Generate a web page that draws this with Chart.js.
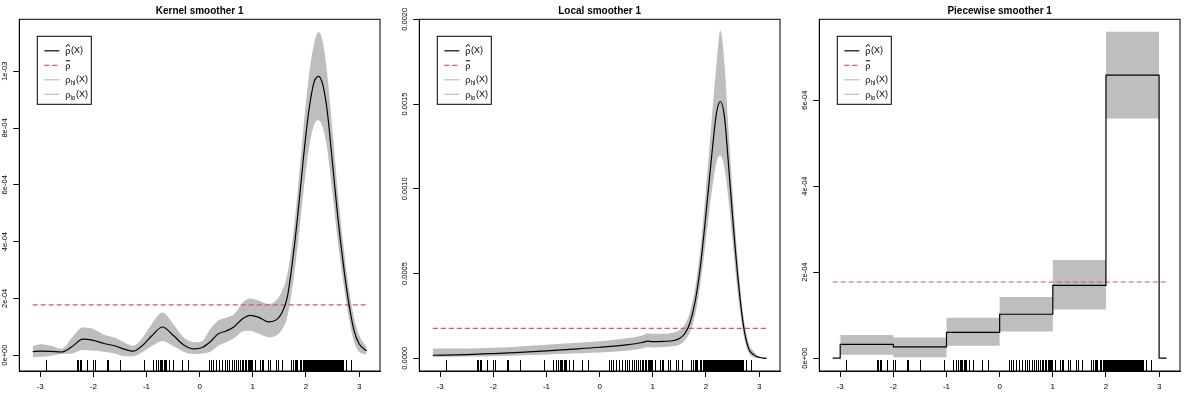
<!DOCTYPE html>
<html>
<head>
<meta charset="utf-8">
<script src="https://cdn.jsdelivr.net/npm/chart.js@4"></script>
<style>
  body { margin: 0; background: #fff; }
  .panel { position: absolute; top: 0; width: 400px; height: 400px; }
</style>
</head>
<body>
<div class="panel" style="left:0"><canvas id="c1" width="400" height="400"></canvas></div>
<div class="panel" style="left:400px"><canvas id="c2" width="400" height="400"></canvas></div>
<div class="panel" style="left:800px"><canvas id="c3" width="400" height="400"></canvas></div>
<script>
// all y values are in units of 1e-4
const xTicks = [-3, -2, -1, 0, 1, 2, 3];
const pBar = 1.77;

// kernel smoother
const kX = [-3.14, -3.0, -2.8, -2.6, -2.4, -2.2, -2.0, -1.8, -1.6, -1.4, -1.25, -1.1, -0.9, -0.7, -0.5, -0.3, -0.1, 0.05, 0.2, 0.35, 0.5, 0.65, 0.8, 0.95, 1.1, 1.3, 1.45, 1.55, 1.65, 1.75, 1.85, 1.95, 2.05, 2.15, 2.24, 2.32, 2.4, 2.5, 2.6, 2.7, 2.8, 2.9, 3.0, 3.14];
const kEst = [0.12, 0.14, 0.13, 0.11, 0.30, 0.56, 0.52, 0.41, 0.33, 0.20, 0.14, 0.30, 0.68, 0.99, 0.70, 0.36, 0.22, 0.27, 0.47, 0.75, 0.85, 1.00, 1.27, 1.40, 1.34, 1.17, 1.25, 1.50, 2.05, 3.35, 5.00, 6.90, 8.55, 9.60, 9.82, 9.50, 8.60, 6.75, 4.85, 3.25, 1.90, 0.90, 0.40, 0.15];
const kHi = [0.30, 0.38, 0.33, 0.22, 0.62, 0.97, 0.92, 0.72, 0.62, 0.43, 0.33, 0.55, 1.10, 1.50, 1.10, 0.62, 0.45, 0.50, 0.92, 1.22, 1.32, 1.45, 1.83, 1.99, 1.92, 1.80, 1.95, 2.25, 2.85, 4.10, 5.90, 7.95, 9.75, 10.95, 11.38, 11.00, 9.90, 7.90, 5.75, 3.95, 2.45, 1.35, 0.70, 0.30];
const kLo = [-0.08, -0.06, -0.02, 0.04, 0.06, 0.18, 0.15, 0.12, 0.06, -0.04, -0.04, 0.08, 0.32, 0.50, 0.32, 0.12, 0.04, 0.06, 0.12, 0.33, 0.45, 0.60, 0.83, 0.86, 0.76, 0.63, 0.70, 0.90, 1.35, 2.45, 3.95, 5.70, 7.20, 8.10, 8.27, 8.00, 7.25, 5.70, 4.00, 2.60, 1.40, 0.50, 0.12, 0.02];
const kYTicks = [0, 2, 4, 6, 8, 10];
const kYLabels = ["0e+00", "2e-04", "4e-04", "6e-04", "8e-04", "1e-03"];

// local smoother
const lX = [-3.14, -2.5, -2.0, -1.5, -1.0, -0.5, 0, 0.5, 0.8, 0.9, 1.0, 1.2, 1.4, 1.5, 1.6, 1.7, 1.8, 1.9, 2.0, 2.1, 2.2, 2.27, 2.35, 2.42, 2.5, 2.6, 2.7, 2.8, 2.9, 3.0, 3.14];
const lEst = [0.18, 0.22, 0.28, 0.35, 0.44, 0.54, 0.65, 0.79, 0.93, 1.01, 0.98, 1.00, 1.05, 1.17, 1.45, 2.10, 3.40, 5.55, 8.50, 11.70, 14.50, 15.15, 14.20, 11.60, 8.40, 4.80, 2.05, 0.60, 0.20, 0.06, 0.00];
const lHi = [0.58, 0.58, 0.62, 0.70, 0.80, 0.90, 1.00, 1.18, 1.35, 1.48, 1.45, 1.45, 1.52, 1.65, 1.98, 2.75, 4.20, 6.60, 10.00, 13.80, 17.40, 19.35, 17.30, 13.70, 9.90, 5.80, 2.60, 0.95, 0.40, 0.12, 0.02];
const lLo = [0.08, 0.10, 0.12, 0.16, 0.22, 0.28, 0.34, 0.45, 0.58, 0.66, 0.64, 0.66, 0.72, 0.80, 1.05, 1.55, 2.60, 4.50, 7.00, 9.60, 11.60, 11.96, 11.20, 9.50, 6.90, 3.80, 1.50, 0.35, 0.06, 0.00, -0.02];
const lYTicks = [0, 5, 10, 15, 20];
const lYLabels = ["0.0000", "0.0005", "0.0010", "0.0015", "0.0020"];

// piecewise smoother
const pX = [-3.14, -3, -2, -1, 0, 1, 2, 3, 3.14];
const pEst = [0, 0.32, 0.26, 0.60, 1.02, 1.69, 6.58, 0, 0];
const pBandX = [-3, -2, -1, 0, 1, 2, 3];
const pHi = [0.54, 0.48, 0.94, 1.42, 2.28, 7.59, 7.59];
const pLo = [0.08, 0.02, 0.29, 0.62, 1.13, 5.57, 5.57];
const pYTicks = [0, 2, 4, 6];
const pYLabels = ["0e+00", "2e-04", "4e-04", "6e-04"];

// covariate values (rug)
const rugX = [-2.89, -2.31, -2.28, -2.26, -2.23, -2.12, -2.00, -1.97, -1.75, -1.72, -1.50, -1.05,
  -0.87, -0.82, -0.79, -0.75, -0.73, -0.70, -0.68, -0.65, -0.63, -0.58, -0.51, -0.34, -0.22,
  0.18, 0.22, 0.26, 0.30, 0.37, 0.42, 0.47, 0.51, 0.56, 0.60, 0.65, 0.69, 0.73, 0.76, 0.79, 0.82,
  0.85, 0.88, 0.91, 0.92, 0.94, 0.96, 0.97, 0.99, 1.04, 1.13, 1.17, 1.20, 1.29, 1.33, 1.43, 1.47,
  1.55, 1.71, 1.75, 1.79, 1.81, 1.84, 1.88, 1.91, 1.94, 1.97,
  1.98, 1.99, 2.00, 2.01, 2.02, 2.03, 2.04, 2.05, 2.06, 2.07, 2.08, 2.09, 2.10, 2.11, 2.12, 2.13,
  2.14, 2.15, 2.16, 2.17, 2.18, 2.19, 2.20, 2.21, 2.22, 2.23, 2.24, 2.25, 2.26, 2.27, 2.28, 2.29,
  2.30, 2.31, 2.32, 2.33, 2.34, 2.35, 2.36, 2.37, 2.38, 2.39, 2.40, 2.41, 2.42, 2.43, 2.44, 2.45,
  2.46, 2.47, 2.48, 2.49, 2.50, 2.51, 2.52, 2.53, 2.54, 2.55, 2.56, 2.57, 2.58, 2.59, 2.60, 2.61,
  2.62, 2.63, 2.64, 2.65, 2.66, 2.67, 2.68, 2.69, 2.70, 2.75, 2.84];

const RED = "#DF536B";
const GREY = "#BEBEBE";
const FONT = "'Liberation Sans', Arial, sans-serif";

const pts = (xs, ys) => xs.map((x, i) => ({ x: x, y: ys[i] }));

// box, title, rotated y labels, rug and legend, drawn R style
const decor = {
  id: "decor",
  afterDraw(chart) {
    const o = chart.options.plugins.decor;
    const ctx = chart.ctx;
    const ca = chart.chartArea;
    const xs = chart.scales.x, ys = chart.scales.y;
    ctx.save();
    ctx.strokeStyle = "#000";
    ctx.lineWidth = 1;
    ctx.strokeRect(ca.left, ca.top, ca.right - ca.left, ca.bottom - ca.top);

    ctx.fillStyle = "#000";
    ctx.font = "bold 10px " + FONT;
    ctx.textAlign = "center";
    ctx.textBaseline = "middle";
    ctx.fillText(o.title, (ca.left + ca.right) / 2, 11);

    ctx.font = "7.5px " + FONT;
    o.yTicks.forEach((v, i) => {
      ctx.save();
      ctx.translate(5, ys.getPixelForValue(v));
      ctx.rotate(-Math.PI / 2);
      ctx.fillText(o.yLabels[i], 0, 0);
      ctx.restore();
    });

    // rug, snapped to whole pixels so the ticks stay crisp
    const rugTop = Math.round(ca.bottom - 0.03 * (ca.bottom - ca.top));
    ctx.beginPath();
    rugX.forEach(v => {
      const px = Math.round(xs.getPixelForValue(v)) + 0.5;
      ctx.moveTo(px, ca.bottom);
      ctx.lineTo(px, rugTop);
    });
    ctx.stroke();

    // legend
    const x0 = ca.left + 18, y0 = ca.top + 17;
    ctx.strokeRect(x0, y0, 54, 68);
    const rows = [
      { c: "#000", dash: [], deco: "hat" },
      { c: RED, dash: [5, 3], deco: "bar" },
      { c: GREY, dash: [], sub: "hi" },
      { c: GREY, dash: [], sub: "lo" }
    ];
    rows.forEach((r, i) => {
      const y = y0 + 14.5 + i * 14.5;
      ctx.save();
      ctx.strokeStyle = r.c;
      ctx.lineWidth = 1.2;
      ctx.setLineDash(r.dash);
      ctx.beginPath();
      ctx.moveTo(x0 + 7, y);
      ctx.lineTo(x0 + 22, y);
      ctx.stroke();
      ctx.restore();
      let tx = x0 + 28;
      ctx.textAlign = "left";
      ctx.textBaseline = "middle";
      ctx.font = "9px " + FONT;
      ctx.fillText("ρ", tx, y + 1);
      const w = ctx.measureText("ρ").width;
      if (r.deco === "hat") {
        ctx.beginPath();
        ctx.moveTo(tx + w / 2 - 2, y - 4);
        ctx.lineTo(tx + w / 2, y - 6.5);
        ctx.lineTo(tx + w / 2 + 2, y - 4);
        ctx.stroke();
      }
      if (r.deco === "bar") {
        ctx.beginPath();
        ctx.moveTo(tx + 0.5, y - 4.5);
        ctx.lineTo(tx + w - 0.5, y - 4.5);
        ctx.stroke();
      }
      tx += w;
      if (r.sub) {
        ctx.font = "6.5px " + FONT;
        ctx.fillText(r.sub, tx, y + 3.5);
        tx += ctx.measureText(r.sub).width;
        ctx.font = "9px " + FONT;
      }
      if (r.deco !== "bar") ctx.fillText("(X)", tx + 0.5, y);
    });
    ctx.restore();
  }
};

function makePanel(id, title, datasets, yMin, yMax, yTicks, yLabels) {
  new Chart(document.getElementById(id), {
    type: "line",
    data: { datasets: datasets },
    options: {
      responsive: false,
      animation: false,
      events: [],
      layout: { padding: { top: 19.3, right: 20, left: 0, bottom: 0 } },
      elements: { point: { radius: 0 } },
      scales: {
        x: {
          type: "linear",
          min: -3.393, max: 3.393,
          afterBuildTicks: s => { s.ticks = xTicks.map(v => ({ value: v })); },
          afterFit: s => { s.height = 29; },
          grid: { drawOnChartArea: false, drawTicks: true, tickLength: 6, color: "#000" },
          border: { display: true, color: "#000" },
          ticks: { color: "#000", font: { family: FONT, size: 8 }, padding: 5, maxRotation: 0 }
        },
        y: {
          type: "linear",
          min: yMin, max: yMax,
          afterBuildTicks: s => { s.ticks = yTicks.map(v => ({ value: v })); },
          afterFit: s => { s.width = 19.3; },
          grid: { drawOnChartArea: false, drawTicks: true, tickLength: 6, color: "#000" },
          border: { display: true, color: "#000" },
          ticks: { display: false }
        }
      },
      plugins: {
        legend: { display: false },
        tooltip: { enabled: false },
        decor: { title: title, yTicks: yTicks, yLabels: yLabels }
      }
    },
    plugins: [decor]
  });
}

function smoothSets(xs, est, hi, lo) {
  return [
    { data: pts(xs, est), borderColor: "#000", borderWidth: 1.2, cubicInterpolationMode: "monotone", fill: false },
    { data: pts([-3.14, 3.14], [pBar, pBar]), borderColor: RED, borderWidth: 1.2, borderDash: [5, 3], fill: false },
    { data: pts(xs, hi), borderWidth: 0, borderColor: GREY, backgroundColor: GREY, cubicInterpolationMode: "monotone", fill: "+1" },
    { data: pts(xs, lo), borderWidth: 0, borderColor: GREY, backgroundColor: GREY, cubicInterpolationMode: "monotone", fill: false }
  ];
}

makePanel("c1", "Kernel smoother 1", smoothSets(kX, kEst, kHi, kLo), -0.56, 11.83, kYTicks, kYLabels);
makePanel("c2", "Local smoother 1", smoothSets(lX, lEst, lHi, lLo), -0.75, 20.0, lYTicks, lYLabels);
makePanel("c3", "Piecewise smoother 1", [
  { data: pts(pX, pEst), borderColor: "#000", borderWidth: 1.2, stepped: "before", fill: false },
  { data: pts([-3.14, 3.14], [pBar, pBar]), borderColor: RED, borderWidth: 1.2, borderDash: [5, 3], fill: false },
  { data: pts(pBandX, pHi), borderWidth: 0, borderColor: GREY, backgroundColor: GREY, stepped: "before", fill: "+1" },
  { data: pts(pBandX, pLo), borderWidth: 0, borderColor: GREY, backgroundColor: GREY, stepped: "before", fill: false }
], -0.30, 7.88, pYTicks, pYLabels);
</script>
</body>
</html>
